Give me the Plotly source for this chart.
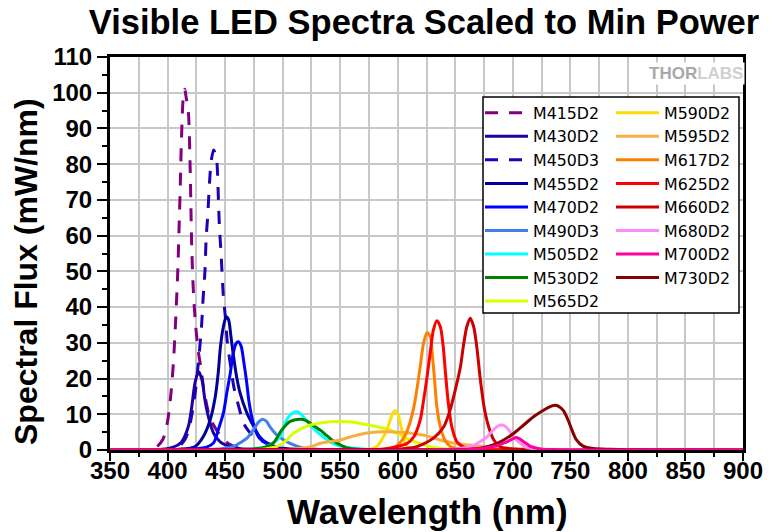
import plotly.graph_objects as go

# ---------------- data ----------------
names = ["M415D2", "M430D2", "M450D3", "M455D2", "M470D2", "M490D3", "M505D2", "M530D2", "M565D2",
         "M590D2", "M595D2", "M617D2", "M625D2", "M660D2", "M680D2", "M700D2", "M730D2"]

colors = ["#800080", "#2000a0", "#2000b4", "#000099", "#0000ff", "#4080ec", "#00ffff", "#008000", "#d8ff00",
          "#ffdd00", "#f5b041", "#ff8000", "#ff0000", "#cc0000", "#ff8cf4", "#ff0099", "#880000"]

dashed = ["M415D2", "M450D3"]

wl_M415D2 = [350, 385, 390, 396, 400, 403, 405, 407, 409, 410, 411, 412, 414, 415, 416, 418, 419.5, 421, 422.5, 424.5, 427, 429, 432, 436, 440, 446, 452, 460, 470, 900]
v_M415D2 = [0, 0.2, 0.7, 3, 8, 16, 24, 36, 51, 62, 73, 86, 100, 101, 99, 95, 81, 57, 44, 34.5, 27, 23, 16, 10, 7, 4, 2, 0.8, 0.2, 0]

wl_M430D2 = [350, 395, 405, 412, 418, 421, 424, 427, 430, 432.5, 435.5, 440, 446, 456, 470, 900]
v_M430D2 = [0, 0.2, 0.8, 2.2, 6.5, 12, 19, 22, 19.5, 14, 9.3, 4.7, 2.2, 0.8, 0.2, 0]

wl_M450D3 = [350, 400, 410, 416, 420, 424, 427.5, 429.5, 431, 432.5, 433.5, 435, 436.5, 438, 440, 441.5, 443, 444, 445, 446.5, 448.5, 450, 452, 455, 458, 462, 466, 470, 475, 486, 497, 510, 900]
v_M450D3 = [0, 0.2, 1, 3.5, 8, 16, 27, 34.5, 43, 50, 59, 66, 75, 81, 84, 83, 80, 72, 63, 55, 43, 38, 30, 23, 17, 12, 7.5, 5.5, 3.7, 2, 0.8, 0.2, 0]

wl_M455D2 = [350, 410, 424, 431, 437, 441.5, 444, 446, 448.5, 451, 453, 455, 457, 460, 463, 469, 475, 480, 486, 495, 510, 900]
v_M455D2 = [0, 0.2, 1, 3.7, 8.4, 15, 21.5, 29, 34.5, 37.3, 36.5, 32, 27, 20.5, 16, 10.3, 6.5, 3.7, 2, 0.8, 0.2, 0]

wl_M470D2 = [350, 420, 434, 440, 444, 448.5, 451.5, 454.5, 457, 459.5, 461.5, 464, 466, 468.5, 471, 474.5, 479, 485, 492, 505, 900]
v_M470D2 = [0, 0.2, 0.8, 2, 5.6, 10.3, 16, 21.5, 27, 29.8, 30.3, 29, 25.2, 19.6, 13, 7.5, 3.7, 2, 0.8, 0.2, 0]

wl_M490D3 = [350, 440, 450, 457, 463, 469, 474.5, 479, 482.5, 486, 489, 495, 500, 506, 515, 530, 900]
v_M490D3 = [0, 0.2, 0.5, 0.9, 2, 3.3, 5.6, 7.8, 8.6, 8, 6.5, 4.2, 3, 1.9, 0.8, 0.2, 0]

wl_M505D2 = [350, 470, 486, 492, 498, 502, 506.5, 510, 513, 516.5, 520, 524, 527, 531, 536, 541, 547, 555, 565, 580, 900]
v_M505D2 = [0, 0.2, 1, 2, 3.8, 7.5, 9.8, 10.6, 10.7, 9.8, 8.5, 7, 6, 4.8, 3.5, 2.3, 1.4, 0.8, 0.4, 0.1, 0]

wl_M530D2 = [350, 470, 485, 492, 499, 506, 510, 515, 520, 524, 528, 533, 537, 541, 545, 549, 556, 565, 580, 900]
v_M530D2 = [0, 0.2, 0.8, 2, 5.5, 7.9, 8.4, 8.6, 8.3, 7.5, 6.6, 5.5, 4.4, 3.3, 2.4, 1.6, 0.6, 0.2, 0.05, 0]

wl_M565D2 = [350, 470, 485, 492, 498, 503, 507, 515, 522, 530, 541, 550, 556, 563, 570, 582, 593, 602, 611, 620, 631, 643, 660, 900]
v_M565D2 = [0, 0.1, 0.3, 0.7, 1.4, 2.6, 4, 5.8, 6.8, 7.4, 7.9, 8.0, 7.9, 7.7, 7.3, 6.5, 5.6, 4.2, 2.8, 1.7, 0.7, 0.3, 0.1, 0]

wl_M590D2 = [350, 570, 578, 582, 586, 590.5, 593.5, 596, 598, 600.5, 603, 605, 608, 612, 620, 900]
v_M590D2 = [0, 0.1, 0.4, 1, 2.8, 5.6, 8.4, 10.5, 11, 9.8, 6.5, 3.3, 0.9, 0.3, 0.1, 0]

wl_M595D2 = [350, 500, 515, 525, 533, 542, 550, 557, 565, 572, 579, 586, 593, 600, 608, 615, 622, 630, 637, 643, 649, 656, 663, 670, 678, 690, 701, 720, 750, 900]
v_M595D2 = [0, 0.1, 0.4, 1.0, 1.9, 2.4, 2.8, 3.5, 4.2, 4.7, 5, 5.1, 5.1, 5, 4.8, 4.5, 4.2, 3.5, 2.8, 2.3, 1.9, 1.6, 1.4, 1.1, 0.9, 0.6, 0.4, 0.2, 0.1, 0]

wl_M617D2 = [350, 580, 591, 598, 605, 609.5, 614, 617, 619.5, 622.5, 625.5, 628.5, 630, 632, 634, 637, 641, 646, 654, 670, 900]
v_M617D2 = [0, 0.1, 0.3, 0.9, 3.3, 6.5, 12, 17.7, 23.3, 30, 32.8, 31.5, 27, 19.6, 12.1, 6.5, 2.8, 0.9, 0.3, 0.1, 0]

wl_M625D2 = [350, 575, 588, 599, 608, 614, 619.5, 622.5, 625.5, 628.5, 631, 634, 637, 639.5, 641.5, 644, 647, 651.5, 657, 666, 680, 900]
v_M625D2 = [0, 0.1, 0.3, 0.9, 1.8, 3.7, 8.4, 14, 20.5, 28, 33.6, 36.2, 34.5, 29, 21.5, 13, 6.5, 2.3, 0.9, 0.3, 0.1, 0]

wl_M660D2 = [350, 590, 602, 614, 622.5, 631, 640, 645.5, 650, 654.5, 657, 660, 663, 666, 669, 671.5, 675, 679, 683.5, 689, 700, 720, 900]
v_M660D2 = [0, 0.1, 0.3, 0.7, 1.7, 3.3, 6.5, 11.2, 16.8, 23.3, 29, 34.5, 36.9, 34.5, 28, 20.5, 12.1, 6.5, 2.8, 0.9, 0.3, 0.1, 0]

wl_M680D2 = [350, 640, 652, 663, 671.5, 677.5, 683, 687, 690, 693, 695, 698, 700.5, 706.5, 712, 721, 735, 900]
v_M680D2 = [0, 0.1, 0.3, 0.9, 2.3, 3.7, 5.6, 6.7, 7, 6.7, 6.1, 5, 3.7, 1.9, 0.7, 0.3, 0.1, 0]

wl_M700D2 = [350, 660, 675, 686, 691, 695, 699, 703, 706, 709.5, 715, 724, 740, 900]
v_M700D2 = [0, 0.1, 0.5, 1.2, 1.8, 2.3, 3.0, 3.5, 3.1, 2.3, 1.1, 0.3, 0.1, 0]

wl_M730D2 = [350, 650, 662, 672, 683, 692, 701, 709.5, 718, 727, 733, 737, 741, 744, 748, 751.5, 755, 761, 770, 785, 800, 900]
v_M730D2 = [0, 0.1, 0.2, 0.5, 1.4, 2.8, 4.7, 7, 9.3, 11.2, 12.2, 12.5, 12, 11, 8.4, 5.5, 3, 1.1, 0.4, 0.2, 0.1, 0]

series = {
    "M415D2": (wl_M415D2, v_M415D2), "M430D2": (wl_M430D2, v_M430D2), "M450D3": (wl_M450D3, v_M450D3),
    "M455D2": (wl_M455D2, v_M455D2), "M470D2": (wl_M470D2, v_M470D2), "M490D3": (wl_M490D3, v_M490D3),
    "M505D2": (wl_M505D2, v_M505D2), "M530D2": (wl_M530D2, v_M530D2), "M565D2": (wl_M565D2, v_M565D2),
    "M590D2": (wl_M590D2, v_M590D2), "M595D2": (wl_M595D2, v_M595D2), "M617D2": (wl_M617D2, v_M617D2),
    "M625D2": (wl_M625D2, v_M625D2), "M660D2": (wl_M660D2, v_M660D2), "M680D2": (wl_M680D2, v_M680D2),
    "M700D2": (wl_M700D2, v_M700D2), "M730D2": (wl_M730D2, v_M730D2),
}

x_ticks = [350, 400, 450, 500, 550, 600, 650, 700, 750, 800, 850, 900]
y_ticks = [0, 10, 20, 30, 40, 50, 60, 70, 80, 90, 100, 110]

# ---------------- figure ----------------
fig = go.Figure()
draw_order = [n for n in names if n != "M700D2"] + ["M700D2"]
for n in draw_order:
    i = names.index(n)
    wl, v = series[n]
    fig.add_trace(go.Scatter(
        x=wl, y=v, name=n, mode="lines",
        line=dict(color=colors[i], width=3, shape="spline", smoothing=0.8,
                  dash="13px,11px" if n in dashed else "solid"),
        legend="legend" if i < 9 else "legend2",
        legendrank=i + 1,
    ))

font_b = "Liberation Sans, Arial, sans-serif"
# the page body has an 8px margin, so the figure sits at (8, 8) in the window
OFF = 8
FW, FH = 780 - OFF, 532 - OFF
PW, PH, L, T = 633, 393, 110, 57   # plot area in window pixels


def px_x(px):
    return (px - L) / PW


def px_y(py):
    return (T + PH - py) / PH


leg_font = dict(family="DejaVu Sans, Verdana, sans-serif", size=15.8, color="black")

fig.update_layout(
    width=FW, height=FH,
    margin=dict(l=L - OFF, r=FW - (L - OFF) - PW, t=T - OFF, b=FH - (T - OFF) - PH, autoexpand=False),
    paper_bgcolor="white", plot_bgcolor="white",
    title=dict(text="Visible LED Spectra Scaled to Min Power", x=px_x(424), xref="paper", xanchor="center",
               y=1 - (22 - OFF) / FH, yref="container", yanchor="middle",
               font=dict(family=font_b, size=34.5, color="black", weight="bold")),
    xaxis=dict(range=[350, 900], tickvals=x_ticks, ticks="outside", ticklen=8, tickwidth=2, tickcolor="black",
               showline=True, linewidth=3, linecolor="black", mirror=True, automargin=False,
               showgrid=True, gridcolor="#c8c8c8", gridwidth=2, zeroline=False, ticklabelstandoff=-11,
               minor=dict(dtick=25, ticks="outside", ticklen=4, tickwidth=2, tickcolor="black",
                          showgrid=True, gridcolor="#c8c8c8", gridwidth=2),
               tickfont=dict(family=font_b, size=24, color="black", weight="bold")),
    yaxis=dict(range=[0, 110], tickvals=y_ticks, ticks="outside", ticklen=10, tickwidth=2, tickcolor="black",
               showline=True, linewidth=3, linecolor="black", mirror=True, automargin=False,
               showgrid=True, gridcolor="#c8c8c8", gridwidth=2, zeroline=False,
               minor=dict(dtick=5, ticks="outside", ticklen=5, tickwidth=2, tickcolor="black", showgrid=False),
               tickfont=dict(family=font_b, size=24, color="black", weight="bold")),
    legend=dict(x=px_x(480), y=px_y(96), xanchor="left", yanchor="top",
                bgcolor="rgba(0,0,0,0)", borderwidth=0, itemwidth=43, font=leg_font, tracegroupgap=0),
    legend2=dict(x=px_x(611), y=px_y(96), xanchor="left", yanchor="top",
                 bgcolor="rgba(0,0,0,0)", borderwidth=0, itemwidth=43, font=leg_font, tracegroupgap=0),
    shapes=[dict(type="rect", xref="paper", yref="paper",
                 x0=px_x(483), x1=px_x(739), y0=px_y(313), y1=px_y(97),
                 fillcolor="white", line=dict(color="black", width=1.5), layer="above")],
    annotations=[
        dict(text="<b>THOR</b><b><span style='color:#d0d0d0'>LABS</span></b>", xref="paper", yref="paper",
             x=px_x(745), y=px_y(73), xanchor="right", yanchor="middle",
             showarrow=False, bgcolor="white",
             font=dict(family=font_b, size=17, color="#a8a8a8")),
        dict(text="Wavelength (nm)", xref="paper", yref="paper", x=px_x(427), y=px_y(511),
             xanchor="center", yanchor="middle", showarrow=False,
             font=dict(family=font_b, size=35, color="black", weight="bold")),
        dict(text="Spectral Flux (mW/nm)", xref="paper", yref="paper", x=px_x(26), y=px_y(272),
             xanchor="center", yanchor="middle", textangle=-90, showarrow=False,
             font=dict(family=font_b, size=32, color="black", weight="bold")),
    ],
)

fig.write_html("out.html")
